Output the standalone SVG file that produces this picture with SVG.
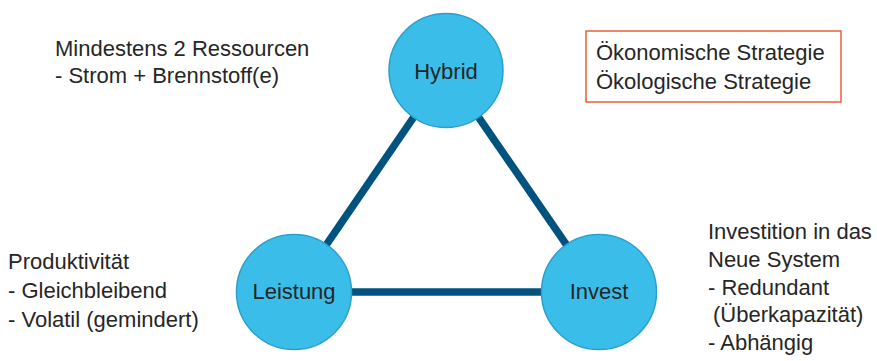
<svg xmlns="http://www.w3.org/2000/svg" width="877" height="361" viewBox="0 0 877 361">
<style>
.t{font-family:"Liberation Sans",Arial,sans-serif;font-size:22px;fill:#262626}
.n{font-family:"Liberation Sans",Arial,sans-serif;font-size:22px;fill:#262626;text-anchor:middle}
.c{fill:#3bbde9;stroke:#2b9fcf;stroke-width:1.5}
.e{stroke:#00527f;stroke-width:7.5;stroke-linecap:butt;fill:none}
</style>
<rect width="877" height="361" fill="#ffffff"/>
<g id="connectors">
<line class="e" x1="446" y1="70" x2="294" y2="292"/>
<line class="e" x1="446" y1="70" x2="599" y2="292"/>
<line class="e" x1="294" y1="292" x2="599" y2="292"/>
</g>
<g id="hybrid">
<circle class="c" cx="446" cy="70.5" r="57"/>
<text class="n" x="446" y="79">Hybrid</text>
</g>
<g id="leistung">
<circle class="c" cx="294" cy="292" r="57.5"/>
<text class="n" x="294" y="299">Leistung</text>
</g>
<g id="invest">
<circle class="c" cx="599" cy="292" r="57.5"/>
<text class="n" x="599" y="299">Invest</text>
</g>
<g id="note-top-left">
<text class="t" x="55" y="56">Mindestens 2 Ressourcen</text>
<text class="t" x="55" y="83">- Strom + Brennstoff(e)</text>
</g>
<g id="strategy-box">
<rect x="586" y="31" width="255" height="71" fill="none" stroke="#e8603c" stroke-width="1.5"/>
<text class="t" x="596" y="60">Ökonomische Strategie</text>
<text class="t" x="596" y="89">Ökologische Strategie</text>
</g>
<g id="note-left">
<text class="t" x="8" y="269">Produktivität</text>
<text class="t" x="8" y="298">- Gleichbleibend</text>
<text class="t" x="8" y="327">- Volatil (gemindert)</text>
</g>
<g id="note-right">
<text class="t" x="708" y="239">Investition in das</text>
<text class="t" x="708" y="267">Neue System</text>
<text class="t" x="708" y="295">- Redundant</text>
<text class="t" x="713" y="322">(Überkapazität)</text>
<text class="t" x="708" y="350">- Abhängig</text>
</g>
</svg>
